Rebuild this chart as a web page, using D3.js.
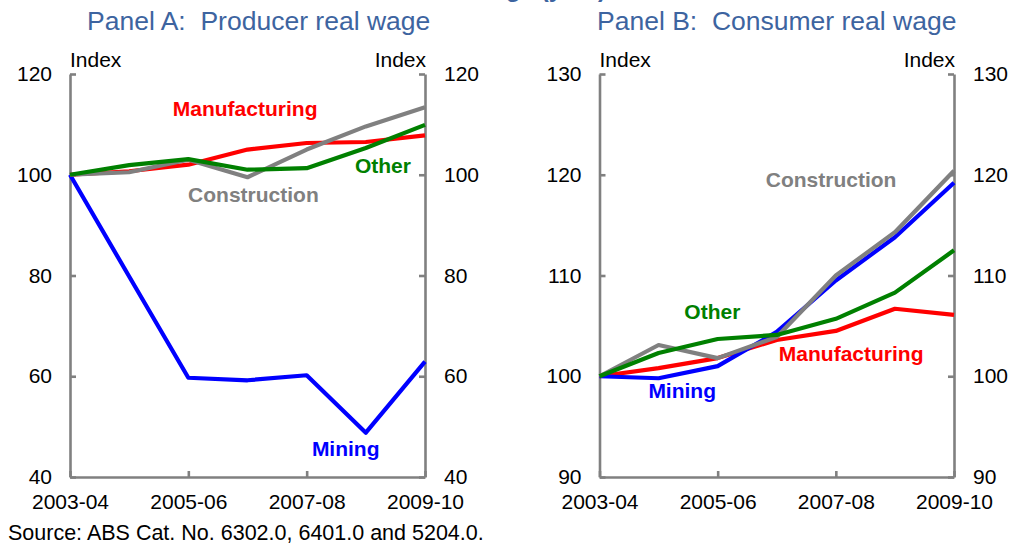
<!DOCTYPE html>
<html>
<head>
<meta charset="utf-8">
<script src="https://cdn.jsdelivr.net/npm/d3@7"></script>
<style>
  html, body { margin: 0; padding: 0; background: #fff; }
  svg { display: block; font-family: "Liberation Sans", Arial, sans-serif; }
</style>
</head>
<body>
<svg id="chart" width="1010" height="545"></svg>
<script>
const years = ["2003-04","2004-05","2005-06","2006-07","2007-08","2008-09","2009-10"];
const xTickIdx = [0, 2, 4, 6];

// Panel A: producer real wage (index, 2003-04 = 100)
const aMining        = [100, 79.8, 59.7, 59.2, 60.2, 48.8, 62.9];
const aManufacturing = [100, 100.7, 102.0, 105.0, 106.3, 106.5, 107.8];
const aConstruction  = [100, 100.5, 103.0, 99.5, 105.0, 109.6, 113.4];
const aOther         = [100, 101.9, 103.1, 101.0, 101.3, 105.3, 109.9];
const aTicks = [40, 60, 80, 100, 120];

// Panel B: consumer real wage
const bMining        = [100, 99.8, 101.0, 104.4, 109.5, 113.8, 119.2];
const bManufacturing = [100, 100.8, 101.8, 103.6, 104.5, 106.7, 106.1];
const bConstruction  = [100, 103.1, 101.8, 103.9, 110.0, 114.3, 120.4];
const bOther         = [100, 102.3, 103.7, 104.1, 105.7, 108.3, 112.5];
const bTicks = [90, 100, 110, 120, 130];

const colors = { Mining: "#0000ff", Manufacturing: "#ff0000", Construction: "#808080", Other: "#008000" };
const axisColor = "#808080";
const titleColor = "#3d64a0";

const svg = d3.select("#chart");

// figure title, clipped at the very top as in the reference
svg.append("text").attr("x", 606).attr("y", -3).attr("text-anchor", "end")
  .attr("font-size", 24).attr("font-weight", "bold").attr("fill", titleColor)
  .text("Real Wage (year)");

function panel(opts) {
  const { left, right, top, bottom, domain, ticks, title, titleX, series, labels } = opts;
  const x = d3.scaleLinear().domain([0, years.length - 1]).range([left, right]);
  const y = d3.scaleLinear().domain(domain).range([bottom, top]);
  const g = svg.append("g");

  g.append("text").attr("x", titleX).attr("y", 29.5).attr("font-size", 26.5)
    .attr("fill", titleColor).attr("xml:space", "preserve").text(title);

  const styleAxis = sel => {
    sel.selectAll("path.domain").attr("stroke", axisColor).attr("stroke-width", 2.6);
    sel.selectAll(".tick line").attr("stroke", axisColor).attr("stroke-width", 2.6);
    sel.selectAll(".tick text").attr("fill", "#000").attr("font-size", 21)
      .attr("font-family", "Liberation Sans, Arial, sans-serif");
  };

  g.append("g").attr("transform", `translate(${left},0)`)
    .call(d3.axisLeft(y).tickValues(ticks).tickSize(-6).tickSizeOuter(0).tickPadding(18))
    .call(styleAxis);
  g.append("g").attr("transform", `translate(${right},0)`)
    .call(d3.axisRight(y).tickValues(ticks).tickSize(-6).tickSizeOuter(0).tickPadding(19))
    .call(styleAxis);
  g.append("g").attr("transform", `translate(0,${bottom})`)
    .call(d3.axisBottom(x).tickValues(xTickIdx).tickFormat(i => years[i]).tickSize(-6).tickSizeOuter(0).tickPadding(17))
    .call(styleAxis);

  g.append("text").attr("x", left).attr("y", 67).attr("font-size", 21).text("Index");
  g.append("text").attr("x", right + 1).attr("y", 67).attr("font-size", 21)
    .attr("text-anchor", "end").text("Index");

  const line = d3.line().x((d, i) => x(i)).y(d => y(d));
  series.forEach(s => {
    g.append("path").datum(s.values).attr("d", line).attr("fill", "none")
      .attr("stroke", colors[s.name]).attr("stroke-width", 4.2)
      .attr("stroke-linejoin", "round");
  });

  labels.forEach(l => {
    g.append("text").attr("x", x(l.i)).attr("y", y(l.v)).attr("text-anchor", "middle")
      .attr("font-size", 21).attr("font-weight", "bold").attr("fill", colors[l.name])
      .text(l.name);
  });
}

panel({
  left: 70, right: 425, top: 74, bottom: 477, domain: [40, 120], ticks: aTicks,
  title: "Panel A:  Producer real wage", titleX: 87,
  series: [
    { name: "Mining", values: aMining },
    { name: "Manufacturing", values: aManufacturing },
    { name: "Construction", values: aConstruction },
    { name: "Other", values: aOther }
  ],
  labels: [
    { name: "Manufacturing", i: 2.96, v: 111.7 },
    { name: "Other", i: 5.29, v: 100.3 },
    { name: "Construction", i: 3.10, v: 94.6 },
    { name: "Mining", i: 4.66, v: 44.2 }
  ]
});

panel({
  left: 599.5, right: 954, top: 74, bottom: 477, domain: [90, 130], ticks: bTicks,
  title: "Panel B:  Consumer real wage", titleX: 597,
  series: [
    { name: "Manufacturing", values: bManufacturing },
    { name: "Mining", values: bMining },
    { name: "Construction", values: bConstruction },
    { name: "Other", values: bOther }
  ],
  labels: [
    { name: "Construction", i: 3.92, v: 118.8 },
    { name: "Other", i: 1.91, v: 105.7 },
    { name: "Manufacturing", i: 4.26, v: 101.5 },
    { name: "Mining", i: 1.40, v: 97.8 }
  ]
});

svg.append("text").attr("x", 8).attr("y", 540).attr("font-size", 21.5)
  .text("Source: ABS Cat. No. 6302.0, 6401.0 and 5204.0.");
</script>
</body>
</html>
